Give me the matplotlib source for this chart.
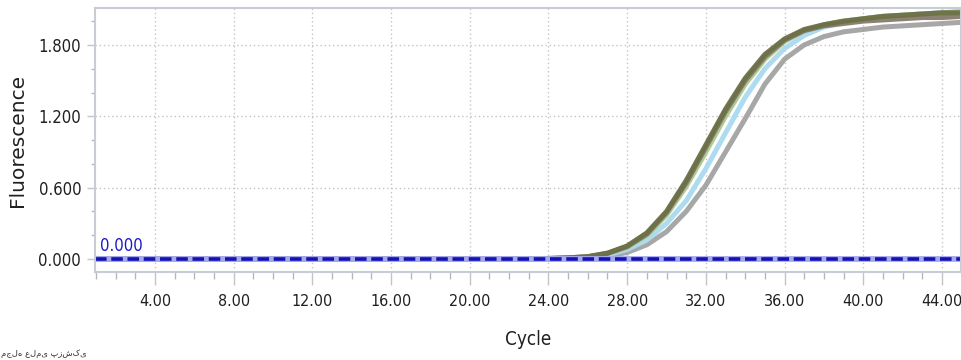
import numpy as np
import matplotlib.pyplot as plt
from matplotlib.ticker import MultipleLocator, FormatStrFormatter

# qPCR amplification curves, one value per cycle 1..45
cycles = list(range(1, 46))
flat = [0.0] * 23  # cycles 1..23

olive = flat + [0.005, 0.01, 0.02, 0.05, 0.11, 0.22, 0.40, 0.66, 0.96, 1.26, 1.52,
                1.72, 1.85, 1.93, 1.97, 2.00, 2.02, 2.04, 2.05, 2.06, 2.07, 2.07]
brown = flat + [0.005, 0.01, 0.02, 0.048, 0.105, 0.21, 0.39, 0.64, 0.94, 1.24, 1.50,
                1.70, 1.84, 1.92, 1.96, 1.98, 2.00, 2.01, 2.02, 2.03, 2.03, 2.04]
green = flat + [0.004, 0.009, 0.018, 0.045, 0.10, 0.20, 0.37, 0.61, 0.90, 1.20, 1.47,
                1.68, 1.83, 1.92, 1.97, 2.00, 2.02, 2.04, 2.05, 2.06, 2.07, 2.08]
blue = flat + [0.003, 0.007, 0.015, 0.035, 0.08, 0.16, 0.30, 0.49, 0.76, 1.06, 1.36,
               1.60, 1.77, 1.88, 1.95, 1.99, 2.02, 2.04, 2.05, 2.06, 2.07, 2.08]
gray = flat + [0.002, 0.004, 0.01, 0.025, 0.055, 0.12, 0.23, 0.40, 0.62, 0.90, 1.18,
               1.47, 1.68, 1.80, 1.87, 1.91, 1.93, 1.95, 1.96, 1.97, 1.98, 1.99]

threshold = 0.0
x_ticks = [4, 8, 12, 16, 20, 24, 28, 32, 36, 40, 44]
y_ticks = [0.0, 0.6, 1.2, 1.8]

narrow = dict(family='DejaVu Sans', stretch='condensed')

fig = plt.figure(figsize=(9.61, 3.6), dpi=100)
ax = fig.add_axes([0.0989, 0.2444, 0.9011, 0.7336])

ax.set_xlim(0.95, 44.97)
ax.set_ylim(-0.109, 2.111)

# grid
ax.grid(True, which='major', color='#c4c4c4', linestyle=(0, (1, 2)), linewidth=1)

# curves
for ys, col in [(gray, '#a2a2a2'), (blue, '#a9d9ef'), (green, '#a9c98c'),
                (brown, '#857b6c'), (olive, '#6c7046')]:
    ax.plot(cycles, ys, color=col, linewidth=3.6, solid_capstyle='round',
            solid_joinstyle='round', alpha=0.95)

# threshold line
ax.axhline(threshold, color='#a8a8ec', linewidth=4.2)
ax.axhline(threshold, color='#1212b8', linewidth=2.6, linestyle=(0, (3.2, 1.3)))
ax.text(1.2, threshold + 0.035, '%.3f' % threshold, color='#1a1acc',
        fontsize=12, va='bottom', ha='left', **narrow)

for s in ax.spines.values():
    s.set_color('#c8ccd4')
    s.set_linewidth(1.5)

ax.set_xticks(x_ticks)
ax.set_yticks(y_ticks)
ax.xaxis.set_minor_locator(MultipleLocator(1))
ax.yaxis.set_minor_locator(MultipleLocator(0.2))
ax.xaxis.set_major_formatter(FormatStrFormatter('%.2f'))
ax.yaxis.set_major_formatter(FormatStrFormatter('%.3f'))
ax.tick_params(which='major', length=9, width=1, color='#c4c4c4', pad=7,
               labelsize=12, labelcolor='#202020')
ax.tick_params(which='minor', length=5, width=1, color='#b8b8b8')
ax.tick_params(axis='y', which='major', length=6, pad=4)
ax.tick_params(axis='y', which='minor', length=3)
for lab in ax.get_xticklabels() + ax.get_yticklabels():
    lab.set_family('DejaVu Sans')
    lab.set_stretch('condensed')
for lab in ax.get_xticklabels():
    lab.set_fontsize(11.5)

ax.set_xlabel('Cycle', fontsize=13.5, color='#202020', labelpad=15, **narrow)
ax.set_ylabel('Fluorescence', fontsize=14.5, family='DejaVu Sans', color='#202020',
              labelpad=8)

fig.text(0.001, 0.006, 'مجله علمی پزشکی', fontsize=6, ha='left', va='bottom',
         color='#303030')

fig.savefig('out.png', dpi=100)
